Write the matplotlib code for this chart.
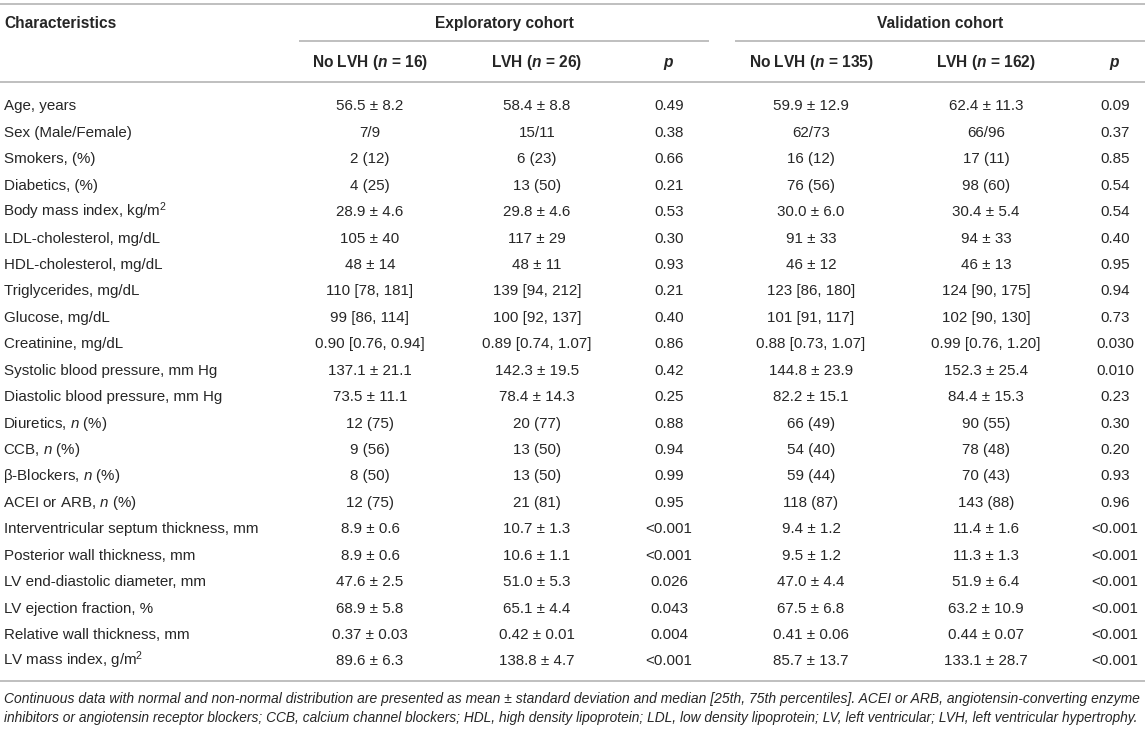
import matplotlib
matplotlib.use("Agg")
import matplotlib.pyplot as plt

plt.rcParams['font.family'] = ['Liberation Sans', 'DejaVu Sans']
plt.rcParams['mathtext.fontset'] = 'custom'
plt.rcParams['mathtext.rm'] = 'Liberation Sans'
plt.rcParams['mathtext.it'] = 'Liberation Sans:italic'
plt.rcParams['mathtext.bf'] = 'Liberation Sans:bold'
plt.rcParams['mathtext.bfit'] = 'Liberation Sans:bold:italic'

# ---------------- data ----------------
characteristics = [
    "Age, years",
    "Sex (Male/Female)",
    "Smokers, (%)",
    "Diabetics, (%)",
    r"Body mass index, kg/m$^{\mathrm{2}}$",
    "LDL-cholesterol, mg/dL",
    "HDL-cholesterol, mg/dL",
    "Triglycerides, mg/dL",
    "Glucose, mg/dL",
    "Creatinine, mg/dL",
    "Systolic blood pressure, mm Hg",
    "Diastolic blood pressure, mm Hg",
    r"Diuretics, $\mathit{n}$ (%)",
    r"CCB, $\mathit{n}$ (%)",
    r"β-Blockers, $\mathit{n}$ (%)",
    r"ACEI or ARB, $\mathit{n}$ (%)",
    "Interventricular septum thickness, mm",
    "Posterior wall thickness, mm",
    "LV end-diastolic diameter, mm",
    "LV ejection fraction, %",
    "Relative wall thickness, mm",
    r"LV mass index, g/m$^{\mathrm{2}}$",
]

expl_nolvh = ["56.5 ± 8.2", "7/9", "2 (12)", "4 (25)", "28.9 ± 4.6", "105 ± 40",
              "48 ± 14", "110 [78, 181]", "99 [86, 114]", "0.90 [0.76, 0.94]",
              "137.1 ± 21.1", "73.5 ± 11.1", "12 (75)", "9 (56)", "8 (50)",
              "12 (75)", "8.9 ± 0.6", "8.9 ± 0.6", "47.6 ± 2.5", "68.9 ± 5.8",
              "0.37 ± 0.03", "89.6 ± 6.3"]
expl_lvh = ["58.4 ± 8.8", "15/11", "6 (23)", "13 (50)", "29.8 ± 4.6", "117 ± 29",
            "48 ± 11", "139 [94, 212]", "100 [92, 137]", "0.89 [0.74, 1.07]",
            "142.3 ± 19.5", "78.4 ± 14.3", "20 (77)", "13 (50)", "13 (50)",
            "21 (81)", "10.7 ± 1.3", "10.6 ± 1.1", "51.0 ± 5.3", "65.1 ± 4.4",
            "0.42 ± 0.01", "138.8 ± 4.7"]
expl_p = ["0.49", "0.38", "0.66", "0.21", "0.53", "0.30", "0.93", "0.21", "0.40",
          "0.86", "0.42", "0.25", "0.88", "0.94", "0.99", "0.95", "<0.001",
          "<0.001", "0.026", "0.043", "0.004", "<0.001"]
val_nolvh = ["59.9 ± 12.9", "62/73", "16 (12)", "76 (56)", "30.0 ± 6.0", "91 ± 33",
             "46 ± 12", "123 [86, 180]", "101 [91, 117]", "0.88 [0.73, 1.07]",
             "144.8 ± 23.9", "82.2 ± 15.1", "66 (49)", "54 (40)", "59 (44)",
             "118 (87)", "9.4 ± 1.2", "9.5 ± 1.2", "47.0 ± 4.4", "67.5 ± 6.8",
             "0.41 ± 0.06", "85.7 ± 13.7"]
val_lvh = ["62.4 ± 11.3", "66/96", "17 (11)", "98 (60)", "30.4 ± 5.4", "94 ± 33",
           "46 ± 13", "124 [90, 175]", "102 [90, 130]", "0.99 [0.76, 1.20]",
           "152.3 ± 25.4", "84.4 ± 15.3", "90 (55)", "78 (48)", "70 (43)",
           "143 (88)", "11.4 ± 1.6", "11.3 ± 1.3", "51.9 ± 6.4", "63.2 ± 10.9",
           "0.44 ± 0.07", "133.1 ± 28.7"]
val_p = ["0.09", "0.37", "0.85", "0.54", "0.54", "0.40", "0.95", "0.94", "0.73",
         "0.030", "0.010", "0.23", "0.30", "0.20", "0.93", "0.96", "<0.001",
         "<0.001", "<0.001", "<0.001", "<0.001", "<0.001"]

cohort_titles = ["Exploratory cohort", "Validation cohort"]
sub_headers = [r"No LVH ($\mathbfit{n}$ = 16)", r"LVH ($\mathbfit{n}$ = 26)", r"$\mathbfit{p}$",
               r"No LVH ($\mathbfit{n}$ = 135)", r"LVH ($\mathbfit{n}$ = 162)", r"$\mathbfit{p}$"]
footnote = [
    "Continuous data with normal and non-normal distribution are presented as mean ± standard deviation and median [25th, 75th percentiles]. ACEI or ARB, angiotensin-converting enzyme",
    "inhibitors or angiotensin receptor blockers; CCB, calcium channel blockers; HDL, high density lipoprotein; LDL, low density lipoprotein; LV, left ventricular; LVH, left ventricular hypertrophy.",
]

# ---------------- layout ----------------
W, H = 1145, 729
fig = plt.figure(figsize=(W / 100, H / 100), dpi=100)
ax = fig.add_axes([0, 0, 1, 1])
ax.set_xlim(0, W)
ax.set_ylim(H, 0)
ax.axis('off')

TXT = '#262626'
LINE = '#b4b4b4'
FS = 10.9
FS_H = 11.2

col_x = [370, 537, 669, 811, 986, 1115]
columns = [expl_nolvh, expl_lvh, expl_p, val_nolvh, val_lvh, val_p]
row0, dy = 105, 26.43
base_off = 5.4

# rules
lw = 1.2
ax.plot([0, W], [4, 4], color=LINE, lw=lw, solid_capstyle='butt')
ax.plot([299, 709], [41, 41], color=LINE, lw=lw, solid_capstyle='butt')
ax.plot([735, W], [41, 41], color=LINE, lw=lw, solid_capstyle='butt')
ax.plot([0, W], [82, 82], color=LINE, lw=lw, solid_capstyle='butt')
ax.plot([0, W], [681, 681], color=LINE, lw=lw, solid_capstyle='butt')

# header
ax.text(4, 23 + base_off, "Characteristics", fontsize=FS_H, fontweight='bold',
        color=TXT, ha='left', va='baseline')
ax.text((299 + 709) / 2, 23 + base_off, cohort_titles[0], fontsize=FS_H,
        fontweight='bold', color=TXT, ha='center', va='baseline')
ax.text((735 + W) / 2, 23 + base_off, cohort_titles[1], fontsize=FS_H,
        fontweight='bold', color=TXT, ha='center', va='baseline')
for x, h in zip(col_x, sub_headers):
    ax.text(x, 62 + base_off, h, fontsize=FS_H, fontweight='bold', color=TXT,
            ha='center', va='baseline')

# body
for i, name in enumerate(characteristics):
    y = row0 + i * dy + base_off
    xoff = -1 if '$' in name else 0
    ax.text(4 + xoff, y, name, fontsize=FS, color=TXT, ha='left', va='baseline')
    for x, col in zip(col_x, columns):
        ax.text(x, y, col[i], fontsize=FS, color=TXT, ha='center', va='baseline')

# footnote, each line fitted to the table width
renderer = fig.canvas.get_renderer()
target_w = 1138
for j, line in enumerate(footnote):
    t = ax.text(4, 698 + j * 19 + 4.8, line, fontsize=10.0, fontstyle='italic',
                color=TXT, ha='left', va='baseline')
    w = t.get_window_extent(renderer=renderer).width
    t.set_fontsize(10.0 * target_w / w)

fig.savefig("out.png", dpi=100)
